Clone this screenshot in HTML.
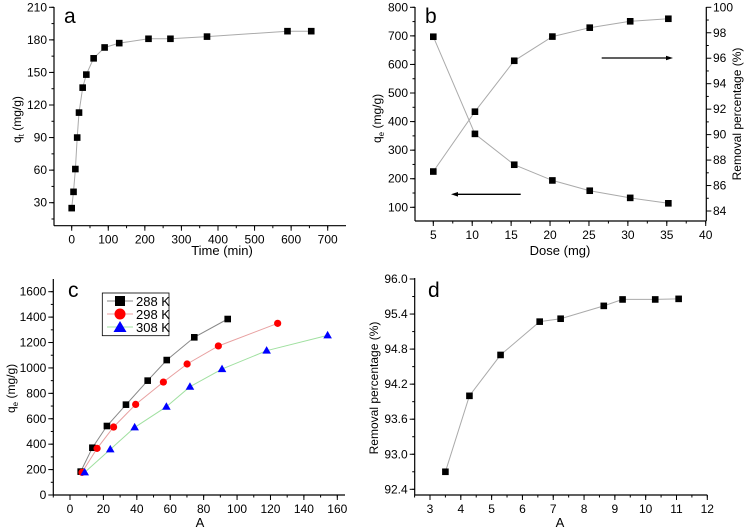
<!DOCTYPE html>
<html><head><meta charset="utf-8"><style>
body{margin:0;background:#fff;}
svg{display:block;font-family:"Liberation Sans",Arial,sans-serif;}
</style></head><body>
<svg id="fig" width="748" height="530" viewBox="0 0 748 530" xmlns="http://www.w3.org/2000/svg"></svg>
<script>
// Panel a data
const aTime=[0,5,10,15,20,30,40,60,90,130,210,270,370,590,655];
const aQt=[25,40,61,90,113,136,148,163,173,177,181,181,183,188,188];
// Panel b data
const bDose=[5,10.35,15.4,20.3,25.1,30.3,35.2];
const bQe=[697,357,249,194,158,133,114];
const bRemoval=[87.1,91.8,95.8,97.7,98.4,98.9,99.1];
// Panel c data
const c288x=[6.4,13.4,22.1,33.5,46.5,57.9,74.4,94.4];
const c288y=[184,372,543,711,900,1062,1241,1385];
const c298x=[7.2,16.2,26.1,39.3,55.9,70.1,88.8,124.3];
const c298y=[178,367,535,713,889,1031,1173,1351];
const c308x=[8.8,24.1,38.7,57.7,71.8,91,117.7,154.2];
const c308y=[178,359,532,695,852,991,1136,1256];
const cLegend=["288 K","298 K","308 K"];
// Panel d data
const dA=[3.5,4.28,5.29,6.56,7.24,8.64,9.25,10.31,11.07];
const dRemoval=[92.70,94.0,94.7,95.27,95.32,95.54,95.65,95.65,95.66];
// Tick labels
const aXTicks=[0,100,200,300,400,500,600,700];
const aYTicks=[30,60,90,120,150,180,210];
const bXTicks=[5,10,15,20,25,30,35,40];
const bYTicks=[100,200,300,400,500,600,700,800];
const bY2Ticks=[84,86,88,90,92,94,96,98,100];
const cXTicks=[0,20,40,60,80,100,120,140,160];
const cYTicks=[0,200,400,600,800,1000,1200,1400,1600];
const dXTicks=[3,4,5,6,7,8,9,10,11,12];
const dYTicks=[92.4,93.0,93.6,94.2,94.8,95.4,96.0];

const NS="http://www.w3.org/2000/svg";
const svg=document.getElementById('fig');
function el(tag,attrs,parent){const e=document.createElementNS(NS,tag);for(const k in attrs)e.setAttribute(k,attrs[k]);(parent||svg).appendChild(e);return e;}
function lin(d0,d1,p0,p1){return v=>p0+(v-d0)*(p1-p0)/(d1-d0);}
function txt(x,y,s,opts,parent){const t=el('text',Object.assign({x:x,y:y,'font-size':12,fill:'#000'},opts||{}),parent);t.textContent=s;return t;}

function axes(g,cfg){
  const {x0,x1,yTop,yBot,sx,sy,xmin,xmax,ymin,ymax,xt,yt,xminor,yminor,fmtY}=cfg;
  let l=el('line',{x1:x0,y1:yBot,x2:x1,y2:yBot,stroke:'#000','stroke-width':1.2},g);
  
  l=el('line',{x1:x0,y1:yTop,x2:x0,y2:yBot,stroke:'#000','stroke-width':1.2},g);
  
  for(let v=Math.ceil(xmin/xminor)*xminor;v<=xmax+1e-9;v+=xminor){const X=sx(v);el('line',{x1:X,y1:yBot,x2:X,y2:yBot+2.5,stroke:'#000'},g);}
  for(let v=Math.ceil(ymin/yminor)*yminor;v<=ymax+1e-9;v+=yminor){const Y=sy(v);el('line',{x1:x0,y1:Y,x2:x0-2.5,y2:Y,stroke:'#000'},g);}
  xt.forEach(v=>{const X=sx(v);el('line',{x1:X,y1:yBot,x2:X,y2:yBot+5,stroke:'#000'},g);
    const t=txt(X,yBot+18,String(v),{'text-anchor':'middle'},g);});
  yt.forEach(v=>{const Y=sy(v);el('line',{x1:x0,y1:Y,x2:x0-5,y2:Y,stroke:'#000'},g);
    const t=txt(x0-7,Y+4,fmtY?fmtY(v):String(v),{'text-anchor':'end'},g);});
}
function series(g,xs,ys,sx,sy,lineColor,marker,color,name){
  const pts=xs.map((x,i)=>sx(x).toFixed(1)+','+sy(ys[i]).toFixed(1)).join(' ');
  const pl=el('polyline',{points:pts,fill:'none',stroke:lineColor,'stroke-width':1},g);
  
  xs.forEach((x,i)=>{const X=sx(x),Y=sy(ys[i]);let m;
    if(marker==='sq')m=el('rect',{x:X-3.3,y:Y-3.3,width:6.6,height:6.6,fill:color},g);
    else if(marker==='ci')m=el('circle',{cx:X,cy:Y,r:3.6,fill:color},g);
    else m=el('polygon',{points:`${X},${Y-4.5} ${X-4.3},${Y+3} ${X+4.3},${Y+3}`,fill:color},g);
    });
}

// ---- Panel a
(function(){
  const g=el('g',{});
  const sx=lin(0,700,71.7,327.7), sy=lin(30,210,202.7,7.3);
  axes(g,{x0:54,x1:346,yTop:7,yBot:225.7,sx,sy,xmin:-48,xmax:720,ymin:9,ymax:210,xt:aXTicks,yt:aYTicks,xminor:50,yminor:15});
  series(g,aTime,aQt,sx,sy,'#aaa','sq','#000','qt');
  let t=txt(222,255,'Time (min)',{'text-anchor':'middle','font-size':13},g);
  t=txt(0,0,'q',{'font-size':12,transform:'translate(21,143) rotate(-90)'},g);
  const ts=el('tspan',{'font-size':8,dy:3},t);ts.textContent='t';
  const ts2=el('tspan',{dy:-3},t);ts2.textContent=' (mg/g)';
  
  t=txt(64,23,'a',{'font-size':21},g);
})();

// ---- Panel b
(function(){
  const g=el('g',{});
  const sx=lin(5,40,433.3,705.7), sy=lin(100,800,207.3,7.3), sy2=lin(84,100,211,7.3);
  axes(g,{x0:415,x1:706.3,yTop:7,yBot:221,sx,sy,xmin:2.65,xmax:40,ymin:52,ymax:800,xt:bXTicks,yt:bYTicks,xminor:2.5,yminor:50});
  let l=el('line',{x1:706.3,y1:7,x2:706.3,y2:221,stroke:'#000','stroke-width':1.2},g);
  
  for(let v=84;v<=100;v+=1){const Y=sy2(v);el('line',{x1:706.3,y1:Y,x2:706.3+(v%2===0?5:2.5),y2:Y,stroke:'#000'},g);}
  bY2Ticks.forEach(v=>{const t=txt(713,sy2(v)+4,String(v),{},g);});
  series(g,bDose,bQe,sx,sy,'#aaa','sq','#000','qe');
  series(g,bDose,bRemoval,sx,sy2,'#aaa','sq','#000','removal');
  el('line',{x1:520.7,y1:194.3,x2:456,y2:194.3,stroke:'#000','stroke-width':1.3},g);
  let a=el('polygon',{points:'451,194.3 458,192 458,196.6',fill:'#000'},g);
  el('line',{x1:601.7,y1:58,x2:668,y2:58,stroke:'#000','stroke-width':1.3},g);
  a=el('polygon',{points:'673,58 666,55.7 666,60.3',fill:'#000'},g);
  let t=txt(560,255,'Dose (mg)',{'text-anchor':'middle','font-size':13},g);
  t=txt(0,0,'q',{transform:'translate(381,143) rotate(-90)'},g);
  let ts=el('tspan',{'font-size':8,dy:3},t);ts.textContent='e';
  ts=el('tspan',{dy:-3},t);ts.textContent=' (mg/g)';
  
  t=txt(0,0,'Removal percentage (%)',{'text-anchor':'middle',transform:'translate(741,114) rotate(-90)'},g);
  
  t=txt(425,23,'b',{'font-size':21},g);
})();

// ---- Panel c
(function(){
  const g=el('g',{});
  const sx=lin(0,160,70,337.3), sy=lin(0,1600,495,291.7);
  axes(g,{x0:53.3,x1:345,yTop:279,yBot:495,sx,sy,xmin:-10,xmax:164,ymin:0,ymax:1690,xt:cXTicks,yt:cYTicks,xminor:10,yminor:100});
  series(g,c288x,c288y,sx,sy,'#888','sq','#000','k288');
  series(g,c298x,c298y,sx,sy,'#e8a0a0','ci','#f00','k298');
  series(g,c308x,c308y,sx,sy,'#a0e0a0','tri','#00f','k308');
  const lg=el('g',{},g);
  el('rect',{x:102.3,y:293,width:66.7,height:42.7,fill:'#fff',stroke:'#000','stroke-width':0.8},lg);
  const cols=[['#888','#000','sq'],['#e8a0a0','#f00','ci'],['#a0e0a0','#00f','tri']];
  cLegend.forEach((s,i)=>{const Y=301+i*13;
    el('line',{x1:107,y1:Y,x2:133,y2:Y,stroke:cols[i][0]},lg);
    let m;
    if(cols[i][2]==='sq')m=el('rect',{x:115,y:Y-5,width:10,height:10,fill:'#000'},lg);
    else if(cols[i][2]==='ci')m=el('circle',{cx:120,cy:Y,r:5.5,fill:'#f00'},lg);
    else m=el('polygon',{points:`120,${Y-6} 113.5,${Y+5} 126.5,${Y+5}`,fill:'#00f'},lg);
    
    const t=txt(136,Y+5,s,{'font-size':13},lg);});
  let t=txt(200,527,'A',{'text-anchor':'middle','font-size':13},g);
  t=txt(0,0,'q',{transform:'translate(15,413) rotate(-90)'},g);
  let ts=el('tspan',{'font-size':8,dy:3},t);ts.textContent='e';
  ts=el('tspan',{dy:-3},t);ts.textContent=' (mg/g)';
  
  t=txt(68,297,'c',{'font-size':21},g);
})();

// ---- Panel d
(function(){
  const g=el('g',{});
  const sx=lin(3,12,430,707.3), sy=lin(92.4,96.0,489.3,279);
  axes(g,{x0:414.7,x1:707.3,yTop:278,yBot:495,sx,sy,xmin:2.5,xmax:12,ymin:92.3,ymax:96.0,xt:dXTicks,yt:dYTicks,xminor:0.5,yminor:0.3,fmtY:v=>v.toFixed(1)});
  series(g,dA,dRemoval,sx,sy,'#aaa','sq','#000','removal-d');
  let t=txt(560,527,'A',{'text-anchor':'middle','font-size':13},g);
  t=txt(0,0,'Removal percentage (%)',{'text-anchor':'middle',transform:'translate(378,388) rotate(-90)'},g);
  
  t=txt(428,297,'d',{'font-size':21},g);
})();
</script>
</body></html>
